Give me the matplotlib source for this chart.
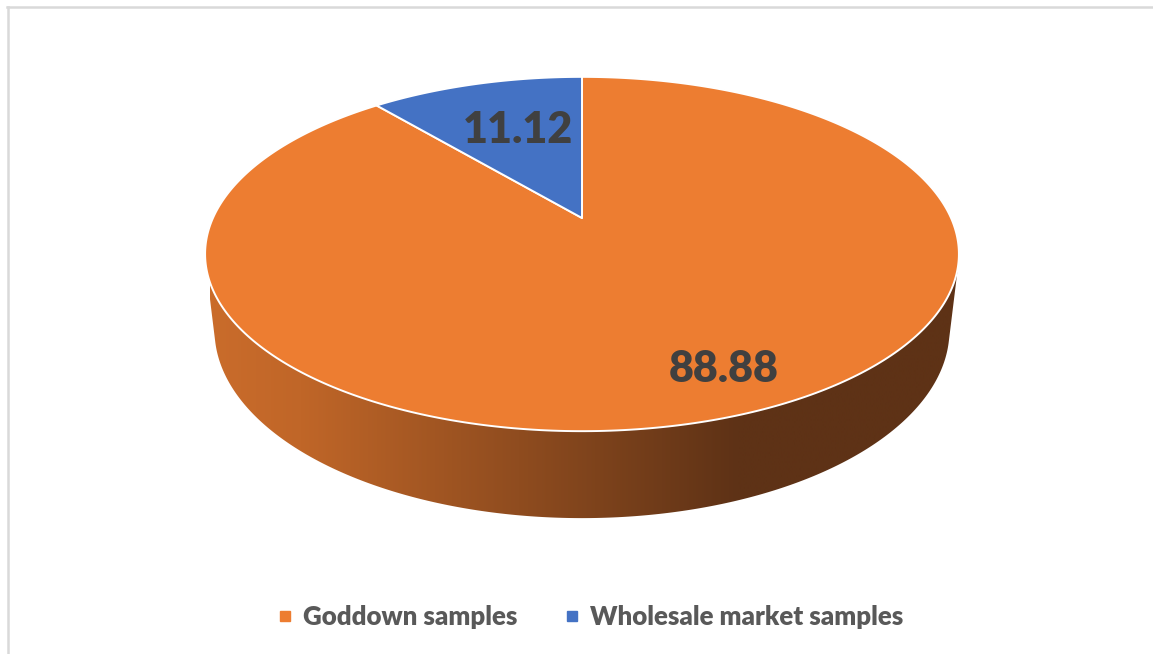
import numpy as np
import matplotlib.pyplot as plt
from matplotlib.patches import Polygon
from matplotlib.lines import Line2D
from matplotlib.colors import to_rgb

labels = ['Goddown samples', 'Wholesale market samples']
values = [88.88, 11.12]
colors = ['#ED7D31', '#4472C4']

# perspective camera for a unit disc seen from above
elev = np.radians(27.4)
dist = 4.367
focal = 1611.6
thick = 0.234
cx, cy = 582, 218


def project(u, v, z=0.0):
    s, c = np.sin(elev), np.cos(elev)
    w = dist + v * c - z * s
    return cx + focal * u / w, cy - focal * (v * s + z * c) / w


def hull(pts):
    pts = sorted(set(map(tuple, np.round(pts, 4))))

    def cross(o, a, b):
        return (a[0] - o[0]) * (b[1] - o[1]) - (a[1] - o[1]) * (b[0] - o[0])

    lower, upper = [], []
    for p in pts:
        while len(lower) >= 2 and cross(lower[-2], lower[-1], p) <= 0:
            lower.pop()
        lower.append(p)
    for p in reversed(pts):
        while len(upper) >= 2 and cross(upper[-2], upper[-1], p) <= 0:
            upper.pop()
        upper.append(p)
    return np.array(lower[:-1] + upper[:-1])


fig = plt.figure(figsize=(11.53, 6.54), dpi=100)
ax = fig.add_axes([0, 0, 1, 1])

# side wall: hull of top and bottom rims, filled with a horizontal shade
t = np.linspace(0, 2 * np.pi, 721)
top = np.column_stack(project(np.cos(t), np.sin(t)))
bot = np.column_stack(project(np.cos(t), np.sin(t), -thick))
side = Polygon(hull(np.vstack([top, bot])), closed=True, facecolor='none',
               edgecolor='none')
ax.add_patch(side)

x0, x1 = bot[:, 0].min() - 5, top[:, 0].max() + 5
xs = np.linspace(x0, x1, 600)
stops_x = [x0, 300, 737, x1]
stops_c = [to_rgb(c) for c in ['#CA6C2B', '#C06628', '#5E3216', '#5E3216']]
shade = np.stack([np.interp(xs, stops_x, [c[k] for c in stops_c])
                  for k in range(3)], axis=-1)[None, :, :]
im = ax.imshow(shade, extent=(x0, x1, bot[:, 1].max() + 5, top[:, 1].min()),
               aspect='auto', interpolation='bilinear', zorder=1)
im.set_clip_path(side)

# top face wedges, first slice starting at 12 o'clock going clockwise
apex = project(0, 0)
start = 90.0
mids = []
for val, col in zip(values, colors):
    sweep = 360 * val / sum(values)
    ang = np.radians(np.linspace(start, start - sweep, 400))
    rim = np.column_stack(project(np.cos(ang), np.sin(ang)))
    pts = np.vstack([apex, rim])
    ax.add_patch(Polygon(pts, closed=True, facecolor=col, edgecolor='white',
                         linewidth=1.4, joinstyle='round', zorder=2))
    mids.append(np.radians(start - sweep / 2))
    start -= sweep

label_r = [0.8, 0.62]
label_shift = [(16, 0), (4, 0)]
for val, mid, r, sh in zip(values, mids, label_r, label_shift):
    ax.annotate(f'{val:.2f}', project(r * np.cos(mid), r * np.sin(mid)),
                xytext=sh, textcoords='offset points', ha='center',
                va='center', fontsize=31, fontweight='heavy', family='Lato',
                color='#404040', zorder=3)

handles = [Line2D([], [], marker='s', ls='none', markersize=7, color=c)
           for c in colors]
ax.legend(handles, labels, loc='center', bbox_to_anchor=(0.511, 0.0566),
          bbox_transform=fig.transFigure, ncol=2, frameon=False,
          prop=dict(family='Lato', weight='heavy', size=18.6),
          labelcolor='#595959', handletextpad=0.3, columnspacing=1.7,
          handlelength=0.8)

# thin chart-area border (top and left)
ax.plot([7, 1153], [7, 7], color='#D9D9D9', lw=1.8, zorder=0)
ax.plot([8, 8], [7, 654], color='#D9D9D9', lw=1.8, zorder=0)

ax.set_xlim(0, 1153)
ax.set_ylim(654, 0)
ax.axis('off')
fig.savefig('out.png', dpi=100)
